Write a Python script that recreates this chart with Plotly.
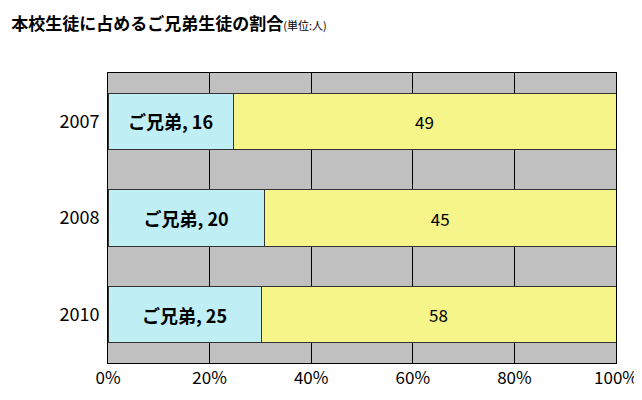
import plotly.graph_objects as go

years = ["2007", "2008", "2010"]
siblings = [16, 20, 25]
others = [49, 45, 58]
sib_labels = ["ご兄弟, 16", "ご兄弟, 20", "ご兄弟, 25"]

font = "Noto Sans CJK JP"
fig = go.Figure()
fig.add_trace(go.Bar(y=years, x=siblings, orientation="h", name="ご兄弟",
                     text=["<b>" + s + "</b>" for s in sib_labels], textposition="inside",
                     insidetextanchor="middle",
                     marker=dict(color="#bfeff5", line=dict(color="#333", width=1)),
                     textfont=dict(size=18, color="black", family=font)))
fig.add_trace(go.Bar(y=years, x=others, orientation="h", name="その他",
                     text=[str(v) for v in others], textposition="inside", insidetextanchor="middle",
                     marker=dict(color="#f5f58a", line=dict(color="#333", width=1)),
                     textfont=dict(size=17, color="black", family=font)))
fig.update_layout(
    width=642, height=400, barmode="stack", barnorm="percent", bargap=0.42,
    showlegend=False, plot_bgcolor="#c0c0c0", paper_bgcolor="white",
    margin=dict(l=100, r=30, t=65, b=45),
    font=dict(family=font, color="black"),
    title=dict(text="<b>本校生徒に占めるご兄弟生徒の割合</b><span style='font-size:11px'>(単位:人)</span>",
               x=0.005, xanchor="left", y=0.975, yanchor="top", font=dict(size=17)),
    xaxis=dict(range=[0, 100], tickvals=[0, 20, 40, 60, 80, 100],
               ticktext=["0%", "20%", "40%", "60%", "80%", "100%"],
               showgrid=True, gridcolor="black", gridwidth=1, tickfont=dict(size=17),
               showline=True, linecolor="black", mirror=True, zeroline=False),
    yaxis=dict(autorange="reversed", tickfont=dict(size=18), showline=True,
               linecolor="black", mirror=True, ticks="", ticklabelstandoff=4),
)
fig.write_html("out.html")
